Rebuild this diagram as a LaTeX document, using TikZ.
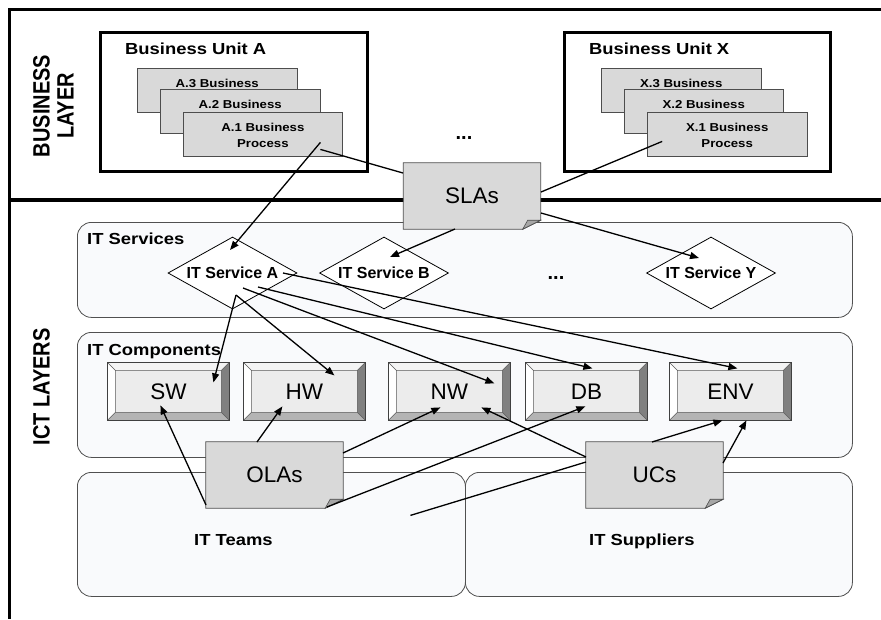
\documentclass[tikz,border=0pt]{standalone}
\usepackage{fontspec}
\usepackage{graphicx}
\setmainfont{Liberation Sans}
\newfontfamily\widefont{Liberation Sans}[FakeStretch=1.15]
\usetikzlibrary{shapes.geometric,arrows.meta}
\definecolor{panelfill}{HTML}{F9FAFC}
\definecolor{panelline}{HTML}{505050}
\definecolor{boxgray}{HTML}{D9D9D9}
\definecolor{foldgray}{HTML}{A6A6A6}
\definecolor{facegray}{HTML}{ECECEC}
\definecolor{edgegray}{HTML}{4D4D4D}
\definecolor{bevtop}{HTML}{F4F4F4}
\definecolor{bevbottom}{HTML}{B4B4B4}
\definecolor{bevright}{HTML}{808080}
\newcommand\titlefnt{\widefont\bfseries\fontsize{16}{19}\selectfont}
\newcommand\procfnt{\widefont\bfseries\fontsize{11.5}{16}\selectfont}
\newcommand\bigfnt{\fontsize{22.5}{27}\selectfont}
\newcommand\layerfnt{\bfseries\fontsize{20}{24}\selectfont}
\newcommand\servfnt{\bfseries\fontsize{16}{19}\selectfont}
\newcommand\notenode[3]{%
  \node[noteshape] (#1s) at (#2) {};
  \filldraw[notebody] (#1s.north west) -- (#1s.north east) -- ([yshift=9pt]#1s.south east)
     -- ([xshift=-18pt]#1s.south east) -- (#1s.south west) -- cycle;
  \filldraw[notefold] ([xshift=-18pt]#1s.south east) -- ([yshift=9pt]#1s.south east)
     -- ([shift={(-13pt,9pt)}]#1s.south east) -- cycle;
  \node[notetext] (#1) at (#1s.center) {#3};}
\tikzset{
  frameline/.style={line width=3.5pt},
  unitbox/.style={draw, line width=3pt, anchor=north west, inner sep=0pt},
  procbox/.style={draw=edgegray, line width=0.8pt, fill=boxgray, anchor=north west,
     minimum width=159.6pt, minimum height=44pt, inner sep=0pt},
  proctext/.style={anchor=north, inner sep=0pt, align=center, font=\procfnt},
  paneltitle/.style={anchor=base west, inner sep=0pt, font=\titlefnt},
  panel/.style={draw=panelline, line width=0.8pt, fill=panelfill, rounded corners=14pt,
     anchor=north west, inner sep=0pt},
  service/.style={diamond, draw, line width=0.8pt, fill=white, aspect=1.8, inner sep=0pt,
     minimum width=129pt, minimum height=72pt, font=\servfnt},
  compbox/.style={draw=black!75, line width=0.8pt, fill=facegray, anchor=north west,
     minimum width=122pt, minimum height=58pt, inner sep=0pt, font=\bigfnt,
     path picture={
       \coordinate (bNW) at (path picture bounding box.north west);
       \coordinate (bNE) at (path picture bounding box.north east);
       \coordinate (bSW) at (path picture bounding box.south west);
       \coordinate (bSE) at (path picture bounding box.south east);
       \coordinate (iNW) at ([shift={(8pt,-8pt)}]bNW);
       \coordinate (iNE) at ([shift={(-8pt,-8pt)}]bNE);
       \coordinate (iSW) at ([shift={(8pt,8pt)}]bSW);
       \coordinate (iSE) at ([shift={(-8pt,8pt)}]bSE);
       \fill[white] (bSW) -- (bNW) -- (iNW) -- (iSW) -- cycle;
       \fill[bevtop] (bNW) -- (bNE) -- (iNE) -- (iNW) -- cycle;
       \fill[bevright] (bNE) -- (bSE) -- (iSE) -- (iNE) -- cycle;
       \fill[bevbottom] (bSW) -- (bSE) -- (iSE) -- (iSW) -- cycle;
       \draw[black!65, line width=0.5pt] (iNW) rectangle (iSE)
          (bNW) -- (iNW) (bNE) -- (iNE) (bSW) -- (iSW) (bSE) -- (iSE);
     }},
  noteshape/.style={minimum width=137pt, minimum height=66pt, inner sep=0pt},
  notebody/.style={draw=edgegray, line width=0.8pt, fill=boxgray},
  notefold/.style={draw=edgegray, line width=0.6pt, fill=foldgray},
  notetext/.style={font=\bigfnt, inner sep=0pt, minimum width=137pt, minimum height=66pt},
  conn/.style={line width=1.3pt},
  arr/.style={conn, -{Triangle[length=9pt,width=7pt]}},
  dotsnode/.style={anchor=base, inner sep=0pt, font=\bfseries\fontsize{20}{24}\selectfont},
}
\begin{document}
\begin{tikzpicture}[x=1pt, y=-1pt]
\useasboundingbox[fill=white] (0,0) rectangle (881,619);

% frame
\coordinate (ftr) at (881,9.5);
\coordinate (ftl) at (9.5,9.5);
\coordinate (fbl) at (9.5,619);
\coordinate (fml) at (9.5,200);
\coordinate (fmr) at (881,200);
\draw[frameline] (ftr) -- (ftl) -- (fbl);
\draw[frameline] (fml) -- (fmr);

% layer titles
\node[rotate=90, align=center, inner sep=0pt, font=\layerfnt] (bl) at (53.3,106)
  {\scalebox{1}[1.18]{BUSINESS}\\\scalebox{1}[1.18]{LAYER}};
\node[rotate=90, inner sep=0pt, font=\layerfnt] (ict) at (41.5,387)
  {\scalebox{1}[1.18]{ICT LAYERS}};

% business units
\node[unitbox, minimum width=267.6pt, minimum height=139pt] (bua) at (98.7,30.8) {};
\node[paneltitle] (buat) at (125,54) {Business Unit A};
\node[procbox] (a3) at (137,68) {};
\node[proctext] (a3t) at ([yshift=-11pt]a3.north) {A.3 Business};
\node[procbox] (a2) at (160,89) {};
\node[proctext] (a2t) at ([yshift=-11pt]a2.north) {A.2 Business};
\node[procbox] (a1) at (182.7,112) {};
\node[proctext] (a1t) at ([yshift=-11pt]a1.north) {A.1 Business\\Process};

\node[unitbox, minimum width=266pt, minimum height=139pt] (bux) at (562.7,30.8) {};
\node[paneltitle] (buxt) at (589,54) {Business Unit X};
\node[procbox] (x3) at (601,68) {};
\node[proctext] (x3t) at ([yshift=-11pt]x3.north) {X.3 Business};
\node[procbox] (x2) at (623.5,89) {};
\node[proctext] (x2t) at ([yshift=-11pt]x2.north) {X.2 Business};
\node[procbox] (x1) at (647,112) {};
\node[proctext] (x1t) at ([yshift=-11pt]x1.north) {X.1 Business\\Process};

\node[dotsnode] (dots1) at (464,139) {...};

% panels
\node[panel, minimum width=775pt, minimum height=95pt] (svc) at (77,222) {};
\node[paneltitle] (svct) at (87,244.3) {IT Services};
\node[panel, minimum width=775pt, minimum height=125pt] (comp) at (77,332) {};
\node[paneltitle] (compt) at (87,355) {IT Components};
\node[panel, minimum width=388pt, minimum height=124pt] (teams) at (77,472) {};
\node[paneltitle] (teamst) at (194,545) {IT Teams};
\node[panel, minimum width=387pt, minimum height=124pt] (supp) at (465,472) {};
\node[paneltitle] (suppt) at (589,545) {IT Suppliers};

% services
\node[service] (itsa) at (232.5,273) {IT Service A};
\node[service] (itsb) at (384,273) {IT Service B};
\node[service] (itsy) at (711,273) {IT Service Y};
\node[dotsnode] (dots2) at (556,279.5) {...};

% components
\node[compbox] (sw) at (107,362) {SW};
\node[compbox] (hw) at (243,362) {HW};
\node[compbox] (nw) at (388,362) {NW};
\node[compbox] (db) at (525,362) {DB};
\node[compbox] (env) at (669,362) {ENV};

% agreements
\notenode{sla}{472,196}{SLAs}
\notenode{olas}{274.5,475}{OLAs}
\notenode{ucs}{654.5,475}{UCs}

% connectors
\draw[arr] ([shift={(57.5,8)}]a1.center) -- ([shift={(-2.5,-23)}]itsa.center);
\draw[conn] ([shift={(57.5,15)}]a1.center) -- ([shift={(-69,-23)}]sla.center);
\draw[conn] ([shift={(-65,7)}]x1.center) -- ([shift={(69,-4)}]sla.center);
\draw[arr] ([shift={(-17,33)}]sla.center) -- ([shift={(6,-16)}]itsb.center);
\draw[arr] ([shift={(69,17)}]sla.center) -- ([shift={(-12,-15)}]itsy.center);

\draw[arr] ([shift={(3.5,22)}]itsa.center) -- ([shift={(45,-9)}]sw.center);
\draw[arr] ([shift={(3.5,22)}]itsa.center) -- ([shift={(30,-16)}]hw.center);
\draw[arr] ([shift={(10.5,15)}]itsa.center) -- ([shift={(45,-8)}]nw.center);
\draw[arr] ([shift={(25.5,14)}]itsa.center) -- ([shift={(6,-23)}]db.center);
\draw[arr] ([shift={(50.5,0)}]itsa.center) -- ([shift={(7,-23)}]env.center);

\draw[arr] ([shift={(-68.5,30)}]olas.center) -- ([shift={(-8,14)}]sw.center);
\draw[arr] ([shift={(-17.5,-33)}]olas.center) -- ([shift={(-22,15)}]hw.center);
\draw[arr] ([shift={(68.5,-22)}]olas.center) -- ([shift={(-9,16)}]nw.center);
\draw[arr] ([shift={(52.5,32)}]olas.center) -- ([shift={(-1,15)}]db.center);

\coordinate (tmend) at ([shift={(139,-19)}]teams.center);
\draw[arr] ([shift={(-68.5,-18)}]ucs.center) -- ([shift={(32,16)}]nw.center);
\draw[conn] (tmend) -- ([shift={(-68.5,-13)}]ucs.center);
\draw[arr] ([shift={(-2.5,-33)}]ucs.center) -- ([shift={(-8,29)}]env.center);
\draw[arr] ([shift={(68.5,-12)}]ucs.center) -- ([shift={(16,29)}]env.center);
\end{tikzpicture}
\end{document}
